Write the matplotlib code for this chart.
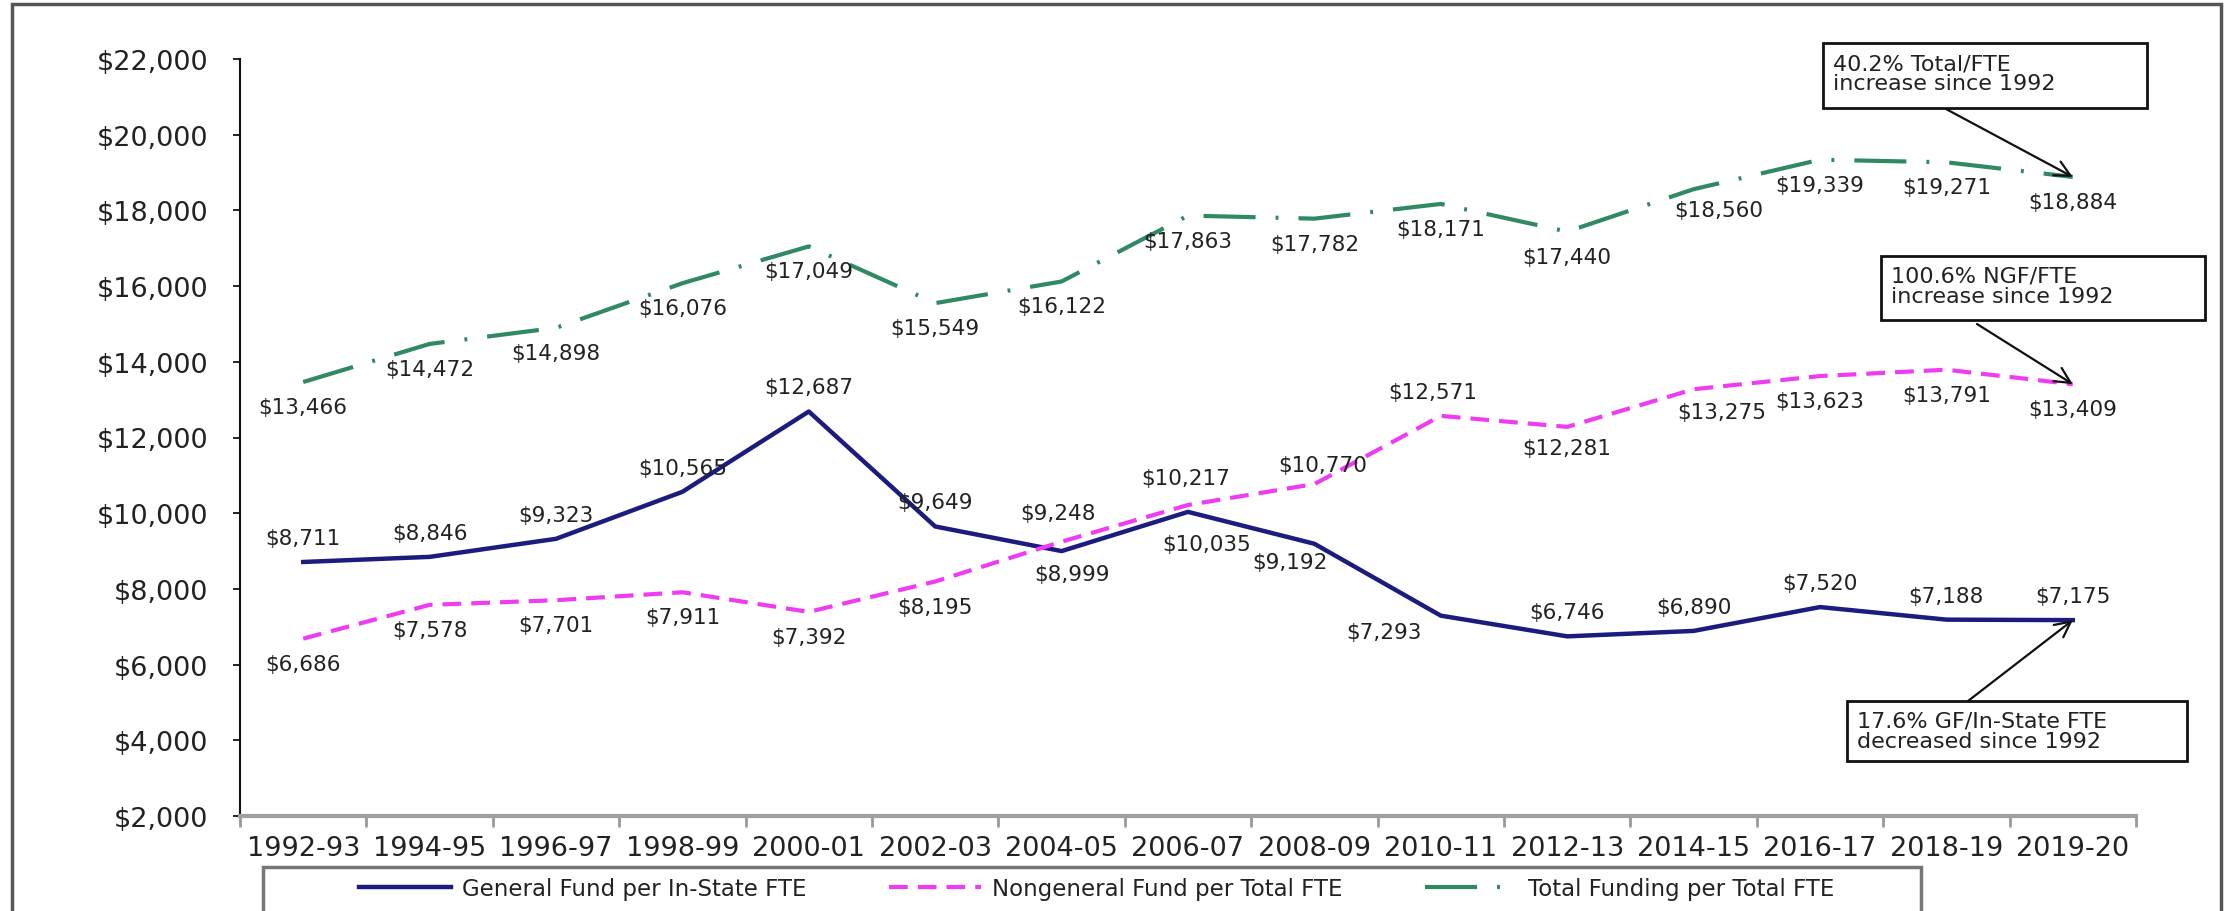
import matplotlib
matplotlib.use("Agg")
import matplotlib.pyplot as plt
from matplotlib.patches import Rectangle
from matplotlib.lines import Line2D
from matplotlib.ticker import FuncFormatter, FixedLocator

W, H = 2224, 912

years = ["1992-93", "1994-95", "1996-97", "1998-99", "2000-01", "2002-03", "2004-05",
         "2006-07", "2008-09", "2010-11", "2012-13", "2014-15", "2016-17", "2018-19", "2019-20"]
general_fund = [8711, 8846, 9323, 10565, 12687, 9649, 8999, 10035, 9192, 7293,
                6746, 6890, 7520, 7188, 7175]
nongeneral_fund = [6686, 7578, 7701, 7911, 7392, 8195, 9248, 10217, 10770, 12571,
                   12281, 13275, 13623, 13791, 13409]
total_funding = [13466, 14472, 14898, 16076, 17049, 15549, 16122, 17863, 17782, 18171,
                 17440, 18560, 19339, 19271, 18884]

series_names = ["General Fund per In-State FTE", "Nongeneral Fund per Total FTE",
                "Total Funding per Total FTE"]
notes = ["40.2% Total/FTE\nincrease since 1992",
         "100.6% NGF/FTE\nincrease since 1992",
         "17.6% GF/In-State FTE\ndecreased since 1992"]

# label offsets from each point, in pixels (dx, dy), dy up
above, below = (0, 24), (0, -25)
gf_off = [above] * 6 + [(10, -23), (19, -32), (-24, -18), (-57, -16)] + [above] * 5
ngf_off = [below] * 6 + [(-4, 29), (-2, 27), (8, 19), (-8, 24), (0, -21), (28, -23)] + [below] * 3
tot_off = [below] * 11 + [(25, -21)] + [below] * 3

c_gf = "#1c1c7e"
c_ngf = "#f03cf0"
c_tot = "#2f8a63"
txt = "#222222"

fig = plt.figure(figsize=(W / 100, H / 100), dpi=100)
ax = fig.add_axes([240 / W, (H - 817) / H, (2136 - 240) / W, (817 - 60) / H])

x = [i + 0.5 for i in range(len(years))]
ax.plot(x, general_fund, color=c_gf, lw=3.2, solid_joinstyle="round")
ax.plot(x, nongeneral_fund, color=c_ngf, lw=3, dashes=(4.5, 2.4))
ax.plot(x, total_funding, color=c_tot, lw=3, dashes=(12.5, 4.8, 0.7, 4.8))

for vals, offs in [(general_fund, gf_off), (nongeneral_fund, ngf_off), (total_funding, tot_off)]:
    for xi, v, (dx, dy) in zip(x, vals, offs):
        ax.annotate(f"${v:,}", (xi, v), xytext=(dx * 0.72, dy * 0.72),
                    textcoords="offset points", ha="center", va="center",
                    fontsize=15.5, color=txt)

ax.set_xlim(0, len(years))
ax.set_ylim(2000, 22000)
ax.yaxis.set_major_locator(FixedLocator(range(2000, 22001, 2000)))
ax.yaxis.set_major_formatter(FuncFormatter(lambda v, p: f"${int(v):,}"))
ax.set_xticks(x)
ax.set_xticklabels(years)
ax.xaxis.set_minor_locator(FixedLocator(range(len(years) + 1)))
ax.tick_params(axis="x", which="major", length=0, pad=14, labelsize=19.5, labelcolor=txt)
ax.tick_params(axis="x", which="minor", length=8, width=2, color="#999999", direction="out")
ax.tick_params(axis="y", length=5, width=1.2, pad=18, labelsize=19.5, labelcolor=txt)

for s in ["top", "right"]:
    ax.spines[s].set_visible(False)
ax.spines["left"].set_color("#111111")
ax.spines["left"].set_linewidth(1.5)
ax.spines["bottom"].set_color("#a0a0a0")
ax.spines["bottom"].set_linewidth(3)

# call-out boxes and arrows
boxes = [(1823, 44, 2147, 109), (1881, 257, 2205, 321), (1847, 702, 2187, 762)]
arrows = [((1946, 110), total_funding[-1]),
          ((1977, 325), nongeneral_fund[-1]),
          ((1968, 702), general_fund[-1])]
for (x0, y0, x1, y1), note in zip(boxes, notes):
    fig.patches.append(Rectangle((x0 / W, 1 - y1 / H), (x1 - x0) / W, (y1 - y0) / H,
                                 transform=fig.transFigure, facecolor="white",
                                 edgecolor="#111111", lw=2, zorder=3))
    fig.text((x0 + 10) / W, 1 - (y0 + 10) / H, note, ha="left", va="top",
             fontsize=16, color=txt, linespacing=1.0, zorder=4)
for (sx, sy), v in arrows:
    ax.annotate("", xy=(x[-1], v), xycoords="data", xytext=(sx, H - sy),
                textcoords="figure pixels",
                arrowprops=dict(arrowstyle="->", lw=1.6, color="#111111",
                                shrinkA=0, shrinkB=0, mutation_scale=28))

# legend with its own frame
fig.patches.append(Rectangle((263 / W, -0.01), (1921 - 263) / W, 0.01 + (H - 868) / H,
                             transform=fig.transFigure, facecolor="white",
                             edgecolor="#777777", lw=2.5))
handles = [Line2D([], [], color=c_gf, lw=3.2),
           Line2D([], [], color=c_ngf, lw=3, dashes=(4.5, 2.4)),
           Line2D([], [], color=c_tot, lw=3, dashes=(12.5, 4.8, 0.7, 4.8))]
fig.legend(handles, series_names, loc="center", bbox_to_anchor=(1097 / W, 1 - 890 / H),
           ncol=3, frameon=False, fontsize=16.5, handlelength=4.0, columnspacing=3.6,
           handletextpad=0.5, labelcolor=txt)

# outer chart border
fig.patches.append(Rectangle((12 / W, -0.01), (2221 - 12) / W, 0.01 + (H - 5) / H,
                             transform=fig.transFigure, fill=False,
                             edgecolor="#555555", lw=2.5))

fig.savefig("out.png", dpi=100)
